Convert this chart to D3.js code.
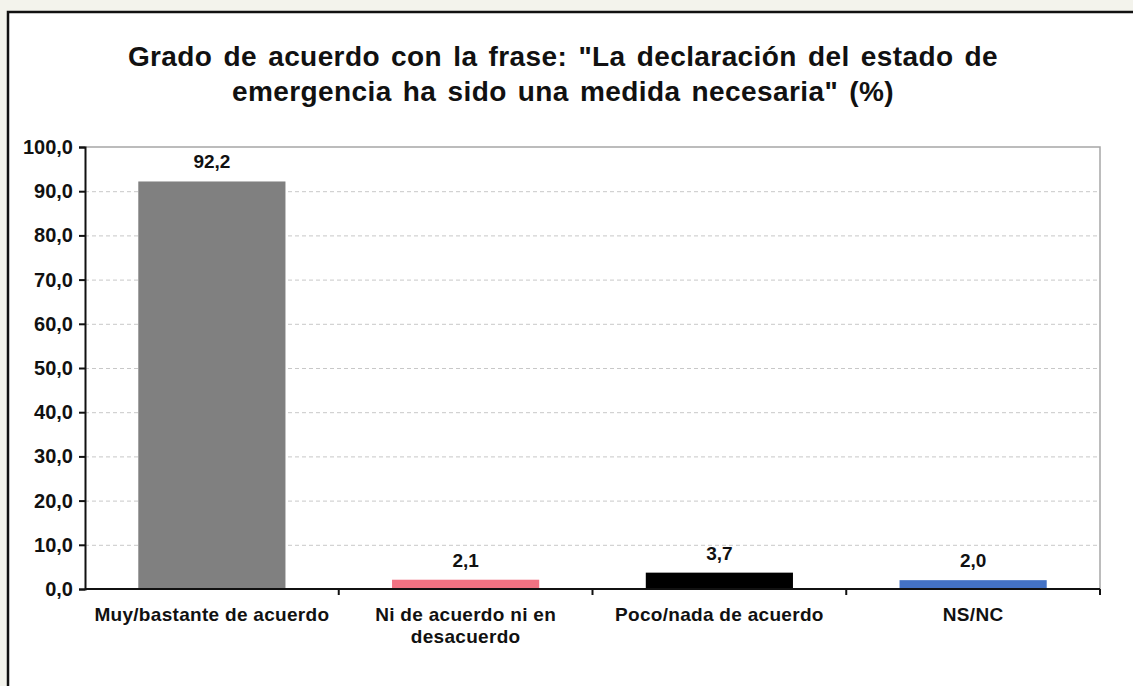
<!DOCTYPE html>
<html>
<head>
<meta charset="utf-8">
<script src="https://cdn.jsdelivr.net/npm/d3@7"></script>
<style>
  body { margin: 0; background: #f3f3ec; }
  svg { display: block; font-family: "Liberation Sans", Arial, sans-serif; }
  .grid line { stroke: #c8c8c8; stroke-dasharray: 4 3; }
  .grid path { display: none; }
</style>
</head>
<body>
<svg id="chart" width="1133" height="686" viewBox="0 0 1133 686"></svg>
<script>
let categories = ["Muy/bastante de acuerdo", "Ni de acuerdo ni en desacuerdo", "Poco/nada de acuerdo", "NS/NC"];
let labelLines = [["Muy/bastante de acuerdo"], ["Ni de acuerdo ni en", "desacuerdo"], ["Poco/nada de acuerdo"], ["NS/NC"]];
let values = [92.2, 2.1, 3.7, 2.0];
let colors = ["#808080", "#f07282", "#000000", "#4472c4"];
let yTicks = [0, 10, 20, 30, 40, 50, 60, 70, 80, 90, 100];
let titleLines = ["Grado de acuerdo con la frase: \"La declaración del estado de", "emergencia ha sido una medida necesaria\" (%)"];

let svg = d3.select("#chart");
let margins = {top: 147, right: 33, bottom: 97, left: 85};
let innerWidth = 1133 - margins.left - margins.right;
let innerHeight = 686 - margins.top - margins.bottom;

// white panel, black border on left and top
svg.append("rect")
    .attr("x", 8).attr("y", 12)
    .attr("width", 1125).attr("height", 674)
    .attr("fill", "white");
svg.append("path")
    .attr("d", "M8,686V12H1133")
    .attr("fill", "none")
    .attr("stroke", "#111").attr("stroke-width", 2.5);

svg.append("text")
    .attr("text-anchor", "middle")
    .attr("font-size", 28).attr("font-weight", "bold")
    .attr("letter-spacing", 0.4).attr("word-spacing", 3)
    .attr("fill", "#111")
    .selectAll("tspan").data(titleLines).enter().append("tspan")
    .attr("x", 563).attr("y", (d, i) => 66 + i * 35)
    .text(d => d);

let x = d3.scaleBand(categories, [0, innerWidth]).paddingInner(0.42).paddingOuter(0.21);
let y = d3.scaleLinear([0, 100], [innerHeight, 0]);

let chart = svg.append("g").attr("transform", `translate(${margins.left},${margins.top})`);

chart.append("g").attr("class", "grid")
    .call(d3.axisLeft(y).tickValues(yTicks.slice(1, -1)).tickFormat("").tickSize(-innerWidth));

// plot frame top / right
chart.append("path")
    .attr("d", `M0,0H${innerWidth}V${innerHeight}`)
    .attr("fill", "none").attr("stroke", "#a6a6a6").attr("stroke-width", 1.5);

chart.selectAll(".bar").data(values).enter().append("rect")
    .attr("class", "bar")
    .attr("x", (d, i) => x(categories[i]))
    .attr("y", d => y(d))
    .attr("width", x.bandwidth())
    .attr("height", d => innerHeight - y(d))
    .attr("fill", (d, i) => colors[i]);

chart.selectAll(".val").data(values).enter().append("text")
    .attr("class", "val")
    .attr("x", (d, i) => x(categories[i]) + x.bandwidth() / 2)
    .attr("y", d => y(d) - 13)
    .attr("text-anchor", "middle")
    .attr("font-size", 19).attr("font-weight", "bold").attr("fill", "#111")
    .text(d => d.toFixed(1).replace(".", ","));

let yAxis = chart.append("g")
    .call(d3.axisLeft(y).tickValues(yTicks).tickSize(6).tickPadding(6)
        .tickFormat(d => d.toFixed(1).replace(".", ",")));
yAxis.attr("font-family", null).attr("font-size", null);
yAxis.select(".domain").attr("stroke", "#111").attr("stroke-width", 2);
yAxis.selectAll(".tick line").attr("stroke", "#111").attr("stroke-width", 2);
yAxis.selectAll("text").attr("font-size", 20).attr("font-weight", "bold").attr("fill", "#111");

// category boundary ticks on x axis
let step = innerWidth / categories.length;
let xAxis = chart.append("g").attr("transform", `translate(0,${innerHeight})`);
xAxis.append("line").attr("x1", 0).attr("x2", innerWidth)
    .attr("stroke", "#111").attr("stroke-width", 2);
xAxis.selectAll(".xt").data(d3.range(1, categories.length + 1)).enter().append("line")
    .attr("x1", d => d * step).attr("x2", d => d * step)
    .attr("y1", 0).attr("y2", 6)
    .attr("stroke", "#111").attr("stroke-width", 2);

xAxis.selectAll(".xl").data(labelLines).enter().append("text")
    .attr("text-anchor", "middle")
    .attr("font-size", 19).attr("font-weight", "bold").attr("fill", "#111")
    .attr("letter-spacing", 0.3)
    .each(function (lines, i) {
        d3.select(this).selectAll("tspan").data(lines).enter().append("tspan")
            .attr("x", x(categories[i]) + x.bandwidth() / 2)
            .attr("y", (d, j) => 32 + j * 22)
            .text(d => d);
    });
</script>
</body>
</html>
